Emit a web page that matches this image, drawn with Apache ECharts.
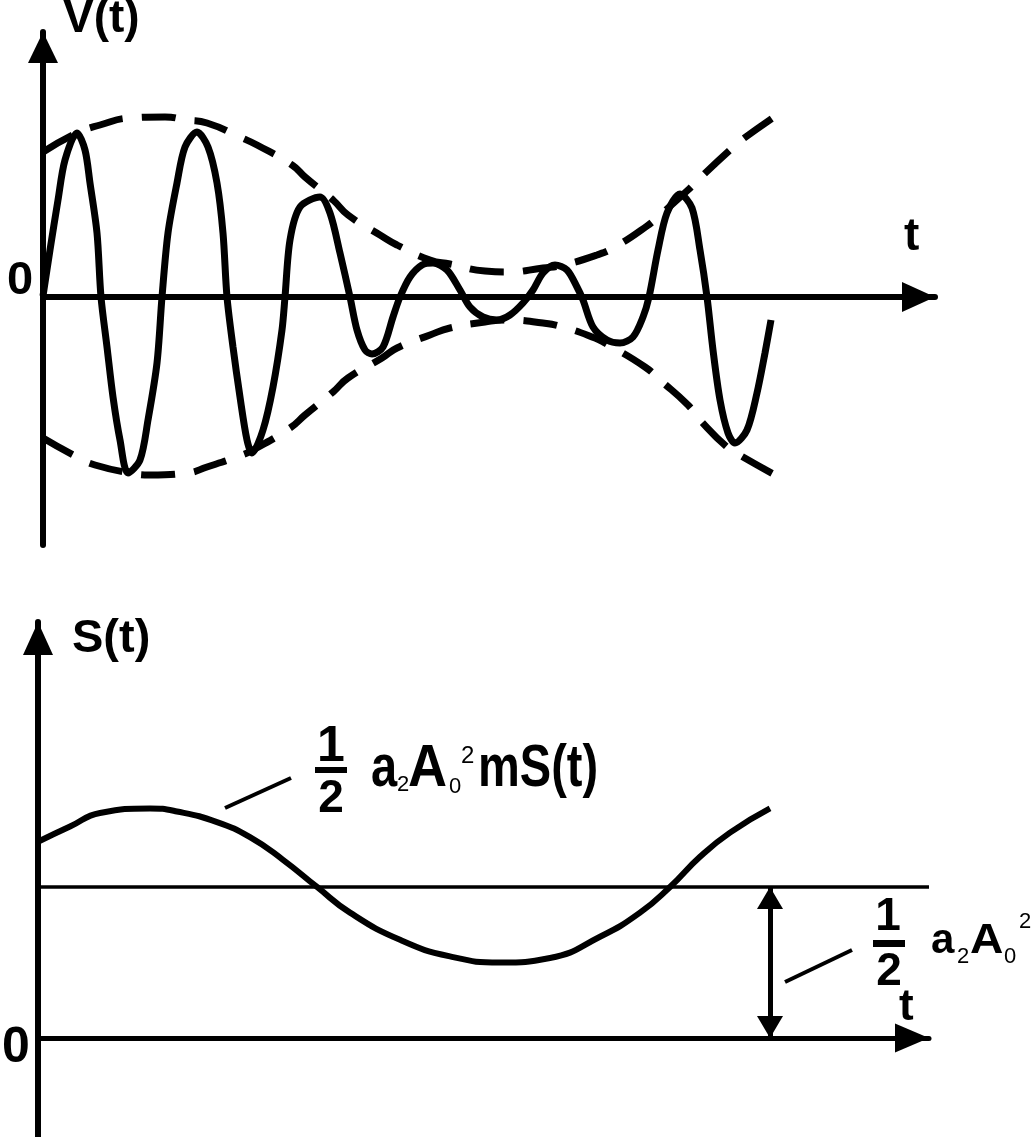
<!DOCTYPE html>
<html><head><meta charset="utf-8">
<script src="https://cdn.jsdelivr.net/npm/echarts@6/dist/echarts.min.js"></script>
<style>html,body{margin:0;padding:0;background:#fff;}#c{width:1034px;height:1137px;}</style>
</head><body><div id="c"></div>
<script>
// ---- Top panel: AM signal V(t) and its envelope ----
const carrierT = [0.00,0.07,0.15,0.22,0.34,0.42,0.47,0.54,0.58,0.64,
  0.70,0.77,0.85,0.97,1.05,1.14,1.19,1.25,1.34,1.42,
  1.54,1.65,1.74,1.80,1.84,1.90,1.97,2.04,2.09,2.20,
  2.30,2.39,2.42,2.47,2.57,2.77,2.87,2.97,3.07,3.14,
  3.22,3.29,3.40,3.50,3.57,3.67,3.79,3.90,4.04,4.17,
  4.27,4.40,4.54,4.67,4.80,4.90,5.00,5.12,5.24,5.34,
  5.40,5.50,5.64,5.77,5.90,6.00,6.06,6.15,6.24,6.37,
  6.49,6.57,6.64,6.70,6.77,6.85,6.92,7.04,7.14,7.22,
  7.28];
const carrierV = [0.01,0.47,0.97,1.37,1.64,1.47,1.14,0.64,0,-0.50,
  -1.00,-1.43,-1.76,-1.63,-1.23,-0.66,0,0.64,1.14,1.50,
  1.65,1.50,1.14,0.64,0,-0.50,-1.00,-1.43,-1.56,-1.33,
  -0.90,-0.33,0,0.57,0.90,1.00,0.84,0.44,0,-0.33,
  -0.53,-0.57,-0.50,-0.20,0,0.20,0.32,0.34,0.27,0.07,
  -0.10,-0.20,-0.23,-0.18,-0.06,0.07,0.24,0.32,0.27,0.10,
  -0.03,-0.30,-0.43,-0.46,-0.40,-0.20,0,0.47,0.84,1.03,
  0.89,0.47,0,-0.53,-1.03,-1.36,-1.46,-1.33,-0.96,-0.56,
  -0.23];
const upperT = [0,0.34,0.57,0.87,1.22,1.44,1.64,1.99,2.14,2.49,2.62,2.90,3.05,3.37,3.54,3.87,4.07,4.42,4.64,5.00,5.20,5.54,5.72,6.04,6.17,6.45,6.57,6.87,7.00,7.34];
const upperV = [1.45,1.64,1.72,1.79,1.80,1.77,1.74,1.59,1.52,1.32,1.20,0.97,0.82,0.62,0.52,0.37,0.33,0.26,0.25,0.29,0.32,0.42,0.50,0.71,0.82,1.07,1.19,1.47,1.58,1.82];
const lowerT = [0,0.34,0.52,0.87,1.07,1.44,1.64,1.99,2.10,2.47,2.62,2.90,3.05,3.39,3.54,3.87,4.07,4.42,4.64,5.00,5.20,5.52,5.62,6.02,6.17,6.45,6.57,6.84,7.00,7.34];
const lowerV = [-1.41,-1.60,-1.68,-1.76,-1.78,-1.76,-1.70,-1.58,-1.53,-1.31,-1.18,-0.95,-0.81,-0.61,-0.51,-0.38,-0.31,-0.25,-0.23,-0.26,-0.30,-0.41,-0.46,-0.70,-0.83,-1.08,-1.23,-1.50,-1.60,-1.79];
const topTMax = 8.92, topVMin = -2.48, topVMax = 2.65;

// ---- Bottom panel: demodulated S(t) ----
const sT = [0,0.32,0.62,1.12,1.39,1.79,2.12,2.45,2.79,3.12,3.62,4.12,4.62,5.12,5.62,6.02,6.32,6.62,6.92,7.32];
const sV = [1.30,1.40,1.49,1.52,1.50,1.43,1.33,1.18,1.00,0.83,0.65,0.54,0.50,0.53,0.67,0.83,1.00,1.20,1.36,1.52];
const dcLevel = 1.0;          // 1/2 a2 A0^2
const dcArrowT = 7.32;        // position of the double arrow
const leader1T = [1.87, 2.53], leader1S = [1.523, 1.722];
const leader2T = [7.47, 8.14], leader2S = [0.371, 0.583];
const botTMax = 8.91, botSMin = -0.656, botSMax = 2.755;

const zip = (a, b) => a.map((v, i) => [v, b[i]]);
const FONT = '"Liberation Sans", Arial, sans-serif';

function axisLine(w, size) {
  return { onZero: true, symbol: ['none', 'triangle'], symbolSize: size,
    symbolOffset: [0, -size[1] / 2], lineStyle: { color: '#000', width: w } };
}
const hidden = { axisTick: { show: false }, axisLabel: { show: false }, splitLine: { show: false } };

function txt(str, x, baseline, size, opts) {
  opts = opts || {};
  const weight = opts.weight || 'bold';
  const sy = opts.scaleY || 1, sx = opts.scaleX || 1;
  return { type: 'text', x: x, y: baseline - 0.3465 * size * sy, scaleY: sy, scaleX: sx, z: 100,
    style: { text: str, font: weight + ' ' + size + 'px ' + FONT, fill: '#000',
      align: opts.align || 'left', verticalAlign: 'middle' } };
}
function bar(x, y, w, h) {
  return { type: 'rect', z: 100, shape: { x: x, y: y, width: w, height: h }, style: { fill: '#000' } };
}
const arrowEnd = { symbol: 'triangle', symbolSize: [26, 22], symbolOffset: [0, 11] };

const chart = echarts.init(document.getElementById('c'), null, { renderer: 'canvas' });
const option = {
  animation: false,
  backgroundColor: '#fff',
  grid: [
    { left: 43, top: 32, width: 892, height: 513 },
    { left: 38, top: 622, width: 891, height: 515 }
  ],
  xAxis: [
    Object.assign({ gridIndex: 0, type: 'value', min: 0, max: topTMax, axisLine: axisLine(6, [30, 33]) }, hidden),
    Object.assign({ gridIndex: 1, type: 'value', min: 0, max: botTMax, axisLine: axisLine(5, [29, 34]) }, hidden)
  ],
  yAxis: [
    Object.assign({ gridIndex: 0, type: 'value', min: topVMin, max: topVMax, axisLine: axisLine(6, [30, 31]) }, hidden),
    Object.assign({ gridIndex: 1, type: 'value', min: botSMin, max: botSMax, axisLine: axisLine(6, [30, 33]) }, hidden)
  ],
  series: [
    { type: 'line', xAxisIndex: 0, yAxisIndex: 0, data: zip(carrierT, carrierV), showSymbol: false,
      smooth: 0.3, clip: false, lineStyle: { color: '#000', width: 7 } },
    { type: 'line', xAxisIndex: 0, yAxisIndex: 0, data: zip(upperT, upperV), showSymbol: false,
      smooth: 0.5, clip: false, lineStyle: { color: '#000', width: 7, type: [34, 19], cap: 'butt' } },
    { type: 'line', xAxisIndex: 0, yAxisIndex: 0, data: zip(lowerT, lowerV), showSymbol: false,
      smooth: 0.5, clip: false, lineStyle: { color: '#000', width: 7, type: [34, 19], cap: 'butt' } },
    { type: 'line', xAxisIndex: 1, yAxisIndex: 1, data: zip(sT, sV), showSymbol: false,
      smooth: 0.5, clip: false, lineStyle: { color: '#000', width: 6 } },
    { type: 'line', xAxisIndex: 1, yAxisIndex: 1, data: [[0, dcLevel], [botTMax, dcLevel]], showSymbol: false,
      clip: false, lineStyle: { color: '#000', width: 3.5 },
      markLine: { silent: true, symbol: ['triangle', 'triangle'], symbolSize: 24, label: { show: false },
        lineStyle: { color: '#000', width: 5, type: 'solid' },
        emphasis: { disabled: true },
        data: [[Object.assign({ coord: [dcArrowT, 0] }, arrowEnd),
                Object.assign({ coord: [dcArrowT, dcLevel] }, arrowEnd)]] } },
    { type: 'line', xAxisIndex: 1, yAxisIndex: 1, data: zip(leader1T, leader1S), showSymbol: false,
      clip: false, lineStyle: { color: '#000', width: 4 } },
    { type: 'line', xAxisIndex: 1, yAxisIndex: 1, data: zip(leader2T, leader2S), showSymbol: false,
      clip: false, lineStyle: { color: '#000', width: 4 } }
  ],
  graphic: [
    txt('V(t)', 63, 35, 46),
    txt('0', 7, 297, 47),
    txt('t', 904, 253, 46),
    txt('S(t)', 72, 655, 47),
    txt('0', 2, 1066, 50),
    txt('t', 899, 1023, 44),
    // formula 1: 1/2 a2 A0^2 mS(t)
    txt('1', 331, 765, 50, { align: 'center' }),
    bar(315, 767, 32, 6),
    txt('2', 331, 815, 46, { align: 'center' }),
    txt('a', 371, 790, 47, { scaleY: 1.25 }),
    txt('2', 397, 793, 22, { weight: 'normal' }),
    txt('A', 408, 790, 47, { scaleY: 1.25, scaleX: 1.15 }),
    txt('0', 449, 795, 22, { weight: 'normal' }),
    txt('2', 461, 765, 24, { weight: 'normal' }),
    txt('mS(t)', 478, 790, 47, { scaleY: 1.25 }),
    // formula 2: 1/2 a2 A0^2
    txt('1', 888, 933, 46, { align: 'center' }),
    bar(873, 940, 32, 7),
    txt('2', 889, 988, 46, { align: 'center' }),
    txt('a', 931, 956, 42),
    txt('2', 957, 965, 22, { weight: 'normal' }),
    txt('A', 970, 956, 42, { scaleX: 1.1 }),
    txt('0', 1004, 965, 22, { weight: 'normal' }),
    txt('2', 1019, 930, 22, { weight: 'normal' })
  ]
};
chart.setOption(option);
</script>
</body></html>
